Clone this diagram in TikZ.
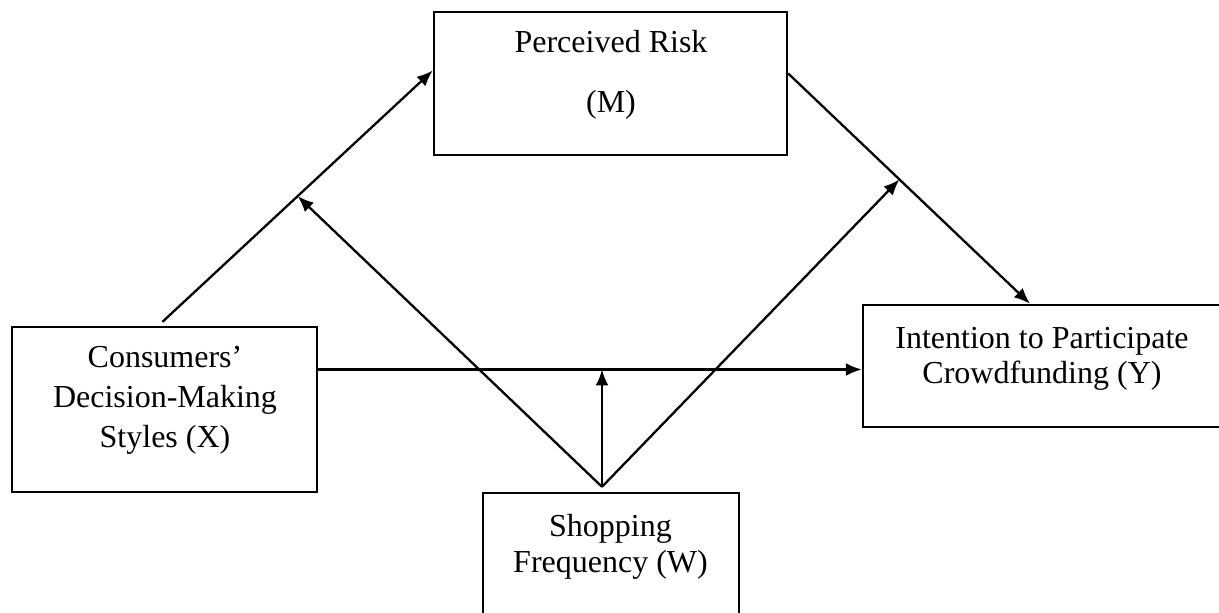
\documentclass[tikz,border=0pt]{standalone}
\usepackage{fontspec}
\setmainfont{Liberation Serif}
\usepackage{tikz}
\usetikzlibrary{calc,arrows.meta}

\tikzset{
	box/.style={draw, line width=1.2pt, rectangle, inner sep=0pt},
	txt/.style={align=center, inner sep=0pt, font=\fontsize{16}{18}\selectfont},
	path/.style={line width=1.15pt, -{Latex[length=8pt,width=6.5pt]}}
}

\begin{document}
\begin{tikzpicture}[x=0.5pt,y=-0.5pt]
				\useasboundingbox (0,0) rectangle (1219,613);
				
				%boxes
				\node[box, minimum width=176.5pt, minimum height=71.5pt] (M) at (610.5,83.5) {};
				\node[box, minimum width=152.5pt, minimum height=82.5pt] (X) at (164.5,409.5) {};
				\node[box, minimum width=179pt, minimum height=61pt] (Y) at (1042,366) {};
				\node[box, minimum width=128pt, minimum height=61.5pt] (W) at (611,554.5) {};
				
				\node[txt] (Mtext) at (611,75) {Perceived Risk\\[12pt](M)};
				\node[txt] (Xtext) at (165,400) {Consumers’\\[2pt]Decision-Making\\[2pt]Styles (X)};
				\node[txt] (Ytext) at (1042,359) {Intention to Participate\\[-0.5pt]Crowdfunding (Y)};
				\node[txt] (Wtext) at (610.5,546.5) {Shopping\\Frequency (W)};
				
				%end points on the box edges
				\coordinate (xm0) at ([xshift=-1pt,yshift=2pt]X.north);
				\coordinate (xm1) at ([yshift=6.5pt]M.west);
				\coordinate (my0) at ([yshift=5pt]M.east);
				\coordinate (my1) at ([xshift=-6pt]Y.north);
				\coordinate (xy0) at ([yshift=20pt]X.east);
				\coordinate (xy1) at (Y.west |- xy0);
				\coordinate (w0) at ([xshift=-4.5pt,yshift=2.5pt]W.north);
				\coordinate (wv) at (w0 |- xy0);
				\coordinate (xmmid) at ($(xm0)!0.5!(xm1)$);
				\coordinate (mymid) at ($(my0)!0.46!(my1)$);
				
				%direct and indirect paths
				\draw[path] (xm0) -- (xm1);
				\draw[path] (my0) -- (my1);
				\draw[path] (xy0) -- (xy1);
				
				%moderator
				\draw[path] (w0) -- (wv);
				\draw[path] (w0) -- (xmmid);
				\draw[path] (w0) -- (mymid);
			
			\end{tikzpicture}
\end{document}
